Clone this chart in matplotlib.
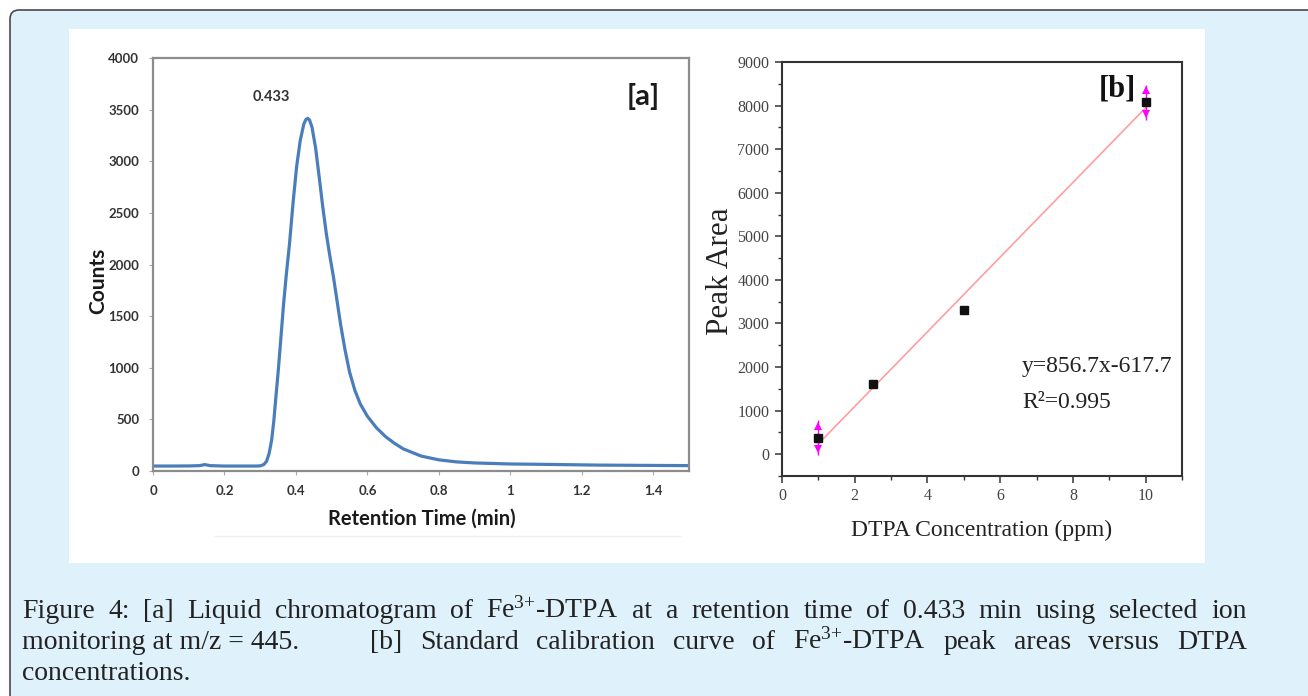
import matplotlib
matplotlib.use('Agg')
import matplotlib.pyplot as plt
from matplotlib.patches import FancyBboxPatch, Rectangle
from matplotlib.ticker import MultipleLocator

plt.rcParams['mathtext.fontset'] = 'custom'
plt.rcParams['mathtext.rm'] = 'Liberation Serif'
plt.rcParams['mathtext.it'] = 'Liberation Serif:italic'

# [a] chromatogram
rt = [0, 0.05, 0.10, 0.13, 0.145, 0.16, 0.2, 0.25, 0.29,
      0.300, 0.310, 0.318, 0.325, 0.332, 0.338, 0.344, 0.350, 0.357, 0.365,
      0.373, 0.382, 0.392, 0.402, 0.412, 0.422, 0.428, 0.433, 0.438, 0.445,
      0.455, 0.465, 0.475, 0.485, 0.495, 0.505, 0.515, 0.525, 0.537, 0.550,
      0.565, 0.580, 0.600, 0.625, 0.650, 0.675, 0.700, 0.750, 0.800, 0.850,
      0.900, 1.000, 1.100, 1.250, 1.500]
counts = [48, 48, 49, 52, 62, 52, 48, 48, 48,
          50, 62, 95, 170, 300, 480, 720, 950, 1250, 1600,
          1900, 2200, 2600, 2950, 3200, 3360, 3405, 3415, 3400, 3330,
          3130, 2850, 2560, 2300, 2080, 1880, 1650, 1420, 1180, 960,
          780, 650, 530, 420, 335, 270, 215, 145, 108, 88,
          78, 68, 64, 57, 52]
a_xticks = [0, 0.2, 0.4, 0.6, 0.8, 1, 1.2, 1.4]
a_xlabels = ['0', '0.2', '0.4', '0.6', '0.8', '1', '1.2', '1.4']
a_yticks = [0, 500, 1000, 1500, 2000, 2500, 3000, 3500, 4000]

# [b] calibration
conc = [1, 2.5, 5, 10]
area = [380, 1600, 3300, 8080]
area_err = [400, 0, 0, 400]
slope, intercept = 856.7, -617.7
fit_x = [1, 10]

W, H = 1308, 696
fig = plt.figure(figsize=(W / 100, H / 100), dpi=100)
fig.patch.set_facecolor('white')

def fx(x):
    return x / W

def fy(y):
    return 1 - y / H

# outer light blue frame and white panel
frame = FancyBboxPatch((0.10, -0.3), 13.4, 6.96 - 0.10 + 0.3,
                       boxstyle='round,pad=0,rounding_size=0.09',
                       transform=fig.dpi_scale_trans, facecolor='#dff1fb',
                       edgecolor='#4a4a4a', linewidth=1.2, zorder=-3)
fig.patches.append(frame)
fig.patches.append(Rectangle((fx(69), fy(563)), (1205 - 69) / W, (563 - 29) / H,
                             transform=fig.transFigure, facecolor='white',
                             edgecolor='none', zorder=-2))
fig.lines.append(plt.Line2D([fx(215), fx(680)], [fy(536), fy(536)],
                            transform=fig.transFigure, color='#f0f0f0', lw=1))

# ---------- panel [a] ----------
sans = 'Lato'
ax1 = fig.add_axes([fx(153), fy(471), 536 / W, 413 / H])
ax1.plot(rt, counts, color='#4a7ebb', lw=2.3)
ax1.set_xlim(0, 1.5)
ax1.set_ylim(0, 4000)
ax1.set_xticks(a_xticks)
ax1.set_xticklabels(a_xlabels)
ax1.set_yticks(a_yticks)
for s in ax1.spines.values():
    s.set_color('#8c8c8c')
    s.set_linewidth(1.6)
ax1.tick_params(length=3, width=0.8, color='#aaaaaa', labelsize=9.5,
                labelcolor='#333333', pad=7)
for lab in ax1.get_xticklabels() + ax1.get_yticklabels():
    lab.set_family(sans)
    lab.set_fontweight('bold')
fig.text(fx(271), fy(97), '0.433', fontsize=10.5, family=sans,
         fontweight='bold', color='#333333', ha='center', va='center')
fig.text(fx(643), fy(97), '[a]', fontsize=21, family=sans, fontweight='bold',
         color='#1a1a1a', ha='center', va='center')
fig.text(fx(98), fy(281), 'Counts', fontsize=15, family=sans, fontweight='bold',
         color='#1a1a1a', ha='center', va='center', rotation=90)
fig.text(fx(422), fy(519), 'Retention Time (min)', fontsize=14.5, family=sans,
         fontweight='bold', color='#1a1a1a', ha='center', va='center')

# ---------- panel [b] ----------
serif = 'Liberation Serif'
ax2 = fig.add_axes([fx(782), fy(476), 400 / W, 414 / H])
ax2.plot(fit_x, [slope * x + intercept for x in fit_x], color='#ff9e9e', lw=1.2)
ax2.errorbar(conc, area, yerr=area_err, fmt='none', ecolor='#ff00ff', elinewidth=1)
for c, a, e in zip(conc, area, area_err):
    if e > 0:
        ax2.plot([c], [a + e - 130], marker='^', color='#ff00ff', ms=6, mew=0)
        ax2.plot([c], [a - e + 130], marker='v', color='#ff00ff', ms=6, mew=0)
ax2.plot(conc, area, 's', color='#111111', ms=6, zorder=5)
ax2.set_xlim(0, 11)
ax2.set_ylim(-500, 9000)
ax2.xaxis.set_major_locator(MultipleLocator(2))
ax2.xaxis.set_minor_locator(MultipleLocator(1))
ax2.yaxis.set_major_locator(MultipleLocator(1000))
ax2.yaxis.set_minor_locator(MultipleLocator(500))
for s in ax2.spines.values():
    s.set_color('#333333')
    s.set_linewidth(1.5)
ax2.tick_params(which='major', direction='out', length=5, width=1.1,
                color='#333333', labelsize=11.5, labelcolor='#444444', pad=4)
ax2.tick_params(which='minor', direction='out', length=3, width=1.0, color='#333333')
for lab in ax2.get_xticklabels() + ax2.get_yticklabels():
    lab.set_family(serif)
fig.text(fx(1117), fy(89), '[b]', fontsize=22, family=serif, fontweight='bold',
         color='#111111', ha='center', va='center')
fig.text(fx(1022), fy(367), 'y=856.7x-617.7', fontsize=17, family=serif,
         color='#222222', ha='left', va='center')
fig.text(fx(1022), fy(403), 'R\u00b2=0.995', fontsize=17, family=serif,
         color='#222222', ha='left', va='center')
fig.text(fx(721), fy(271), 'Peak Area', fontsize=22.5, family=serif,
         color='#222222', ha='center', va='center', rotation=90)
fig.text(fx(982), fy(530), 'DTPA Concentration (ppm)', fontsize=17, family=serif,
         color='#222222', ha='center', va='center')

# ---------- caption, justified ----------
fe = r'Fe$^{\mathrm{3{+}}}$-DTPA'
cap_lines = [
    ['Figure', '4:', '[a]', 'Liquid', 'chromatogram', 'of', fe, 'at', 'a',
     'retention', 'time', 'of', '0.433', 'min', 'using', 'selected', 'ion'],
    ['monitoring at m/z = 445.', '[b]', 'Standard', 'calibration', 'curve',
     'of', fe, 'peak', 'areas', 'versus', 'DTPA'],
    ['concentrations.'],
]
gap_weights = [None, [4] + [1] * 9, None]
justify = [True, True, False]
baselines = [618, 649, 680]
left, right = 22, 1247

renderer = fig.canvas.get_renderer()
for words, weights, just, base in zip(cap_lines, gap_weights, justify, baselines):
    texts = [fig.text(0, fy(base), w, fontsize=20, family=serif, color='#222222',
                      ha='left', va='baseline') for w in words]
    widths = [t.get_window_extent(renderer).width for t in texts]
    if weights is None:
        weights = [1] * (len(words) - 1)
    if just and len(words) > 1:
        unit = (right - left - sum(widths)) / sum(weights)
    else:
        unit = 6
    x = left
    for i, t in enumerate(texts):
        t.set_x(fx(x))
        x += widths[i]
        if i < len(weights):
            x += unit * weights[i]

fig.savefig('out.png', dpi=100)
